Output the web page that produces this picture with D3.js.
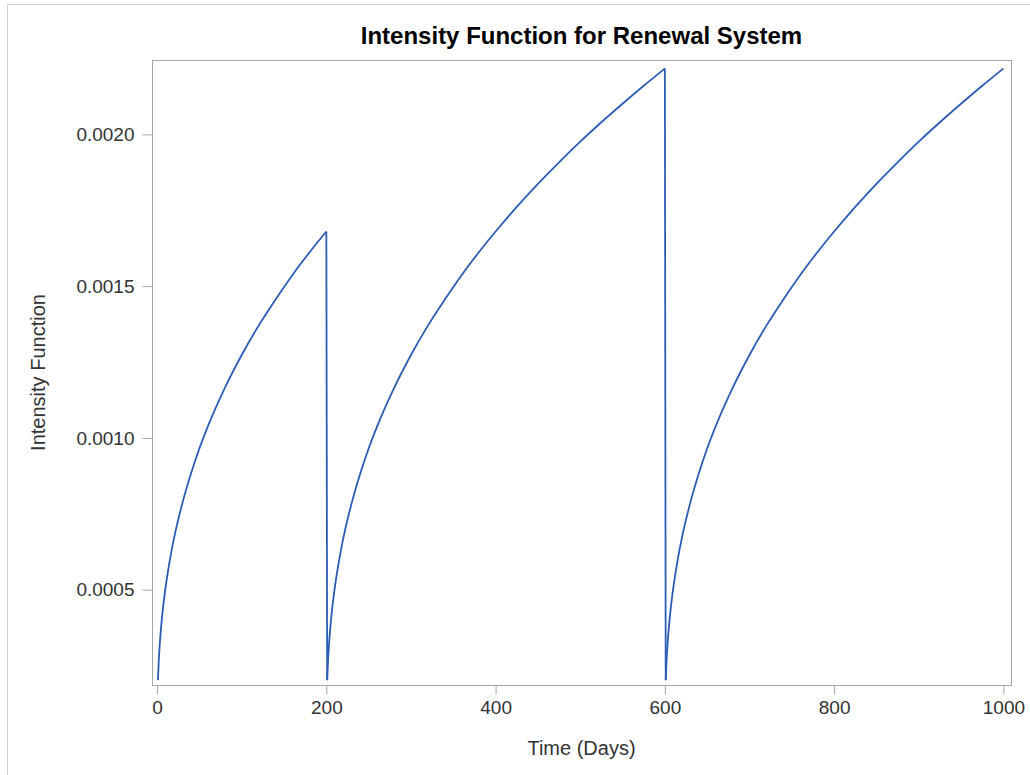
<!DOCTYPE html>
<meta charset="utf-8">
<head>
	<style>
		html, body {
			margin: 0;
			padding: 0;
			background-color: white;
		}
		svg text {
			font-family: "Liberation Sans", Arial, sans-serif;
			fill: #333;
		}
		.title {
			font-size: 24px;
			font-weight: bold;
			fill: black;
		}
		.axislabel {
			font-size: 20px;
		}
		.axis text {
			font-size: 19px;
			fill: #333;
		}
		.axis path, .axis line {
			stroke: #a3a7ab;
		}
	</style>
	<script src="https://d3js.org/d3.v7.min.js"></script>
</head>
<body>
	<script>

	// DATA
	var timeDays = [
		1, 2, 3, 5, 7, 10, 15, 20, 30, 40, 50, 60, 80, 100, 120, 140, 160, 180, 200,
		201, 202, 203, 205, 207, 210, 215, 220, 230, 240, 250, 260, 280, 300, 320, 340, 360, 380, 400,
		425, 450, 475, 500, 525, 550, 575, 600,
		601, 602, 603, 605, 607, 610, 615, 620, 630, 640, 650, 660, 680, 700, 720, 740, 760, 780, 800,
		825, 850, 875, 900, 925, 950, 975, 1000
	];

	var intensity = [
		0.000202, 0.000266, 0.000313, 0.000384, 0.000440, 0.000507, 0.000596, 0.000669, 0.000786,
		0.000882, 0.000965, 0.001038, 0.001164, 0.001273, 0.001370, 0.001456, 0.001537, 0.001611, 0.001680,
		0.000202, 0.000266, 0.000313, 0.000384, 0.000440, 0.000507, 0.000596, 0.000669, 0.000786,
		0.000882, 0.000965, 0.001038, 0.001164, 0.001273, 0.001370, 0.001456, 0.001537, 0.001611, 0.001680,
		0.001761, 0.001837, 0.001908, 0.001976, 0.002040, 0.002101, 0.002160, 0.002217,
		0.000202, 0.000266, 0.000313, 0.000384, 0.000440, 0.000507, 0.000596, 0.000669, 0.000786,
		0.000882, 0.000965, 0.001038, 0.001164, 0.001273, 0.001370, 0.001456, 0.001537, 0.001611, 0.001680,
		0.001761, 0.001837, 0.001908, 0.001976, 0.002040, 0.002101, 0.002160, 0.002217
	];

	var xTicks = [0, 200, 400, 600, 800, 1000];
	var yTicks = [0.0005, 0.0010, 0.0015, 0.0020];

	// SETUP
	var W = 1030, H = 775,
		plot = { left: 152, right: 1011, top: 60, bottom: 685 };

	var x = d3.scaleLinear().domain([-6, 1009]).range([plot.left, plot.right]),
		y = d3.scaleLinear().domain([0.000186, 0.002245]).range([plot.bottom, plot.top]);

	var svg = d3.select('body')
		.append('svg')
		.attr('width', W)
		.attr('height', H);

	// outer frame
	svg.append('rect')
		.attr('x', 7.5)
		.attr('y', 4.5)
		.attr('width', W + 10)
		.attr('height', H + 10)
		.attr('fill', 'none')
		.attr('stroke', '#cfd1d3');

	svg.append('text')
		.attr('class', 'title')
		.attr('x', (plot.left + plot.right) / 2)
		.attr('y', 44)
		.attr('text-anchor', 'middle')
		.text('Intensity Function for Renewal System');

	// plot frame
	svg.append('rect')
		.attr('x', plot.left + 0.5)
		.attr('y', plot.top + 0.5)
		.attr('width', plot.right - plot.left)
		.attr('height', plot.bottom - plot.top)
		.attr('fill', 'none')
		.attr('stroke', '#a3a7ab');

	svg.append('g')
		.attr('class', 'axis')
		.attr('transform', 'translate(0,' + (plot.bottom + 0.5) + ')')
		.call(d3.axisBottom(x).tickValues(xTicks).tickFormat(d3.format('d')).tickSize(9).tickPadding(6).tickSizeOuter(0))
		.call(function(g) { g.select('.domain').remove(); });

	svg.append('g')
		.attr('class', 'axis')
		.attr('transform', 'translate(' + (plot.left + 0.5) + ',0)')
		.call(d3.axisLeft(y).tickValues(yTicks).tickFormat(d3.format('.4f')).tickSize(10).tickPadding(8).tickSizeOuter(0))
		.call(function(g) { g.select('.domain').remove(); });

	svg.append('text')
		.attr('class', 'axislabel')
		.attr('x', (plot.left + plot.right) / 2)
		.attr('y', 755)
		.attr('text-anchor', 'middle')
		.text('Time (Days)');

	svg.append('text')
		.attr('class', 'axislabel')
		.attr('transform', 'translate(45,' + (plot.top + plot.bottom) / 2 + ') rotate(-90)')
		.attr('text-anchor', 'middle')
		.text('Intensity Function');

	// LINE
	// split at each renewal (where the intensity drops) so the smooth curve
	// does not flatten at the peaks; the drops are drawn straight
	var pts = timeDays.map(function(t, i) { return [t, intensity[i]]; });
	var segments = [[]], drops = [];
	pts.forEach(function(p, i) {
		if (i > 0 && p[1] < pts[i - 1][1]) {
			drops.push([pts[i - 1], p]);
			segments.push([]);
		}
		segments[segments.length - 1].push(p);
	});

	var curve = d3.line()
		.x(function(d) { return x(d[0]); })
		.y(function(d) { return y(d[1]); })
		.curve(d3.curveMonotoneX);

	var straight = d3.line()
		.x(function(d) { return x(d[0]); })
		.y(function(d) { return y(d[1]); });

	var lines = svg.append('g')
		.attr('fill', 'none')
		.attr('stroke', '#2c5cb4')
		.attr('stroke-width', 1.8)
		.attr('stroke-linejoin', 'round');

	lines.selectAll('.seg')
		.data(segments)
		.enter().append('path')
		.attr('class', 'seg')
		.attr('d', curve);

	lines.selectAll('.drop')
		.data(drops)
		.enter().append('path')
		.attr('class', 'drop')
		.attr('d', straight);

	</script>
</body>
